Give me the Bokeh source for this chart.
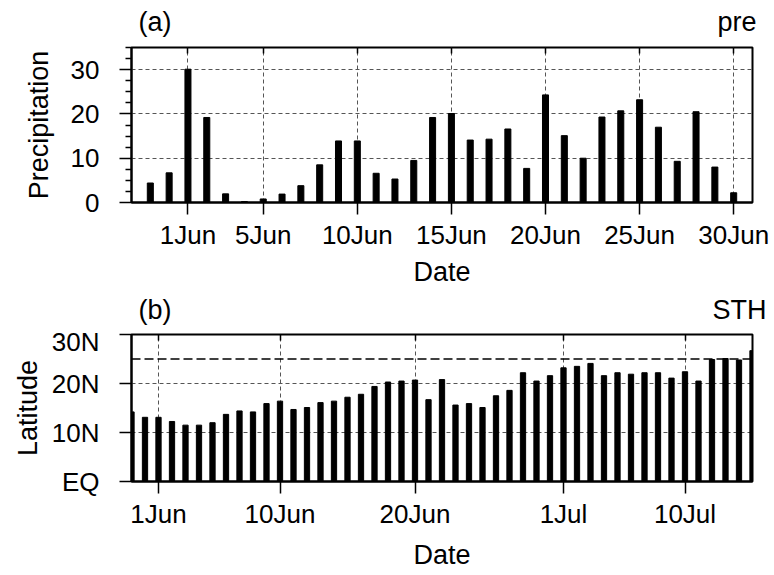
from bokeh.plotting import figure
from bokeh.layouts import column
from bokeh.models import Range1d, LinearAxis, FixedTicker, Span
from bokeh.core.properties import value
from bokeh.embed import file_html
from bokeh.resources import INLINE

# ---------------- data ----------------
# panel (a): daily precipitation, day offsets relative to 1 Jun (30May .. 30Jun)
days_a = list(range(-2, 30))
pre_values = [4.4, 6.7, 30.1, 19.2, 1.95, 0.2, 0.8, 1.9, 3.8, 8.5, 13.9, 13.9,
              6.6, 5.3, 9.5, 19.2, 20.1, 14.1, 14.3, 16.6, 7.7, 24.3, 15.1, 10.0,
              19.3, 20.7, 23.2, 17.0, 9.3, 20.5, 8.0, 2.2]
tick_days_a = [0, 4, 9, 14, 19, 24, 29]
tick_labels_a = ["1Jun", "5Jun", "10Jun", "15Jun", "20Jun", "25Jun", "30Jun"]
yticks_a = [0, 10, 20, 30]
yminor_a = [2.5, 5, 7.5, 12.5, 15, 17.5, 22.5, 25, 27.5, 32.5, 35]

# panel (b): STH latitude, day offsets relative to 1 Jun (30May .. 15Jul)
days_b = list(range(-2, 45))
sth_values = [14.2, 13.1, 13.1, 12.25, 11.5, 11.5, 12.0, 13.7, 14.4, 14.2, 15.9, 16.4,
              14.7, 15.1, 16.1, 16.4, 17.2, 17.8, 19.4, 20.3, 20.5, 20.7, 16.7, 20.8,
              15.6, 15.9, 15.1, 17.5, 18.6, 22.2, 20.5, 21.6, 23.2, 23.5, 24.1, 21.6,
              22.2, 21.9, 22.2, 22.2, 21.1, 22.4, 20.5, 24.9, 25.1, 24.8, 26.7]
tick_days_b = [0, 9, 19, 30, 39]
tick_labels_b = ["1Jun", "10Jun", "20Jun", "1Jul", "10Jul"]
yticks_b = [0, 10, 20, 30]
ytick_labels_b = ["EQ", "10N", "20N", "30N"]
ref_lat = 25

titles_a = ["(a)", "pre"]
titles_b = ["(b)", "STH"]

FONT = "Liberation Sans"
TICK_FS = "26px"
LAB_FS = "27px"
W = 772
LEFT = 131
RIGHT = 20


def style(p, xt, xl, yt, yl, yminor=None, xlabel_standoff=4, ylabel_standoff=14):
    p.xaxis.ticker = FixedTicker(ticks=xt)
    p.xaxis.major_label_overrides = {t: l for t, l in zip(xt, xl)}
    p.yaxis.ticker = FixedTicker(ticks=yt, minor_ticks=yminor or [])
    p.yaxis.major_label_overrides = {t: l for t, l in zip(yt, yl)}
    for ax in (p.xaxis[0], p.yaxis[0]):
        ax.major_label_text_font = FONT
        ax.major_label_text_font_size = TICK_FS
        ax.major_label_text_color = "black"
        ax.axis_label_text_font = FONT
        ax.axis_label_text_font_size = LAB_FS
        ax.axis_label_text_font_style = "normal"
        ax.axis_label_text_color = "black"
        ax.axis_line_width = 2
        ax.axis_line_color = "black"
        ax.major_tick_line_color = "black"
        ax.major_tick_line_width = 1.5
        ax.minor_tick_line_color = "black"
        ax.minor_tick_line_width = 1.5
        ax.major_tick_in = 0
        ax.major_tick_out = 12
        ax.minor_tick_in = 0
        ax.minor_tick_out = 6
    p.xaxis.major_label_standoff = 5
    p.xaxis.axis_label_standoff = xlabel_standoff
    p.yaxis.major_label_standoff = 20
    p.yaxis.axis_label_standoff = ylabel_standoff
    if not yminor:
        p.yaxis.minor_tick_line_color = None
    p.xaxis.minor_tick_line_color = None
    p.xgrid.ticker = FixedTicker(ticks=xt)
    p.ygrid.ticker = FixedTicker(ticks=yt)
    p.grid.grid_line_color = "#555555"
    p.grid.grid_line_dash = "4 3"
    p.grid.grid_line_width = 1
    p.outline_line_color = "black"
    p.outline_line_width = 2
    p.outline_line_alpha = 1
    p.background_fill_color = "white"
    p.border_fill_color = "white"
    top = LinearAxis(ticker=FixedTicker(ticks=xt), major_label_text_font_size="1px",
                     major_label_text_color=None,
                     major_tick_in=6, major_tick_out=0, major_tick_line_width=1.5,
                     major_tick_line_color="black",
                     axis_line_color=None, minor_tick_line_color=None,
                     major_label_standoff=0)
    p.add_layout(top, "above")


def title_strip(height, texts, xs, center_from_top):
    t = figure(width=W, height=height, x_range=Range1d(0, W), y_range=Range1d(0, height),
               output_backend="svg", toolbar_location=None, min_border=0,
               x_axis_location=None, y_axis_location=None)
    try:
        t.frame_align = False
    except Exception:
        pass
    t.grid.visible = False
    t.outline_line_color = None
    t.background_fill_color = "white"
    t.border_fill_color = "white"
    yc = height - center_from_top
    t.text(x=[xs[0]], y=[yc], text=[texts[0]], text_align="left", text_baseline="middle",
           text_font=value(FONT), text_font_size=LAB_FS, text_color="black")
    t.text(x=[xs[1]], y=[yc], text=[texts[1]], text_align="right", text_baseline="middle",
           text_font=value(FONT), text_font_size=LAB_FS, text_color="black")
    return t


# ---------------- panel (a) ----------------
ta = title_strip(40, titles_a, [LEFT + 7, 756], 21)
pa = figure(width=W, height=250, x_range=Range1d(-3, 30), y_range=Range1d(0, 35),
            output_backend="svg", toolbar_location=None,
            min_border_left=LEFT, min_border_right=RIGHT, min_border_top=7, min_border_bottom=88,
            x_axis_label="Date", y_axis_label="Precipitation")
pa.vbar(x=days_a, top=pre_values, width=0.32, color="black")
style(pa, tick_days_a, tick_labels_a, yticks_a, [str(v) for v in yticks_a],
      yminor=yminor_a, xlabel_standoff=4, ylabel_standoff=14)

# ---------------- panel (b) ----------------
tb = title_strip(36, titles_b, [LEFT + 7, 766], 19)
pb = figure(width=W, height=246, x_range=Range1d(-2, 44), y_range=Range1d(0, 30),
            output_backend="svg", toolbar_location=None,
            min_border_left=LEFT, min_border_right=RIGHT, min_border_top=8, min_border_bottom=82,
            x_axis_label="Date", y_axis_label="Latitude")
pb.vbar(x=days_b, top=sth_values, width=0.39, color="black")
style(pb, tick_days_b, tick_labels_b, yticks_b, ytick_labels_b,
      xlabel_standoff=8, ylabel_standoff=6)
pb.add_layout(Span(location=ref_lat, dimension="width", line_color="black",
                   line_dash="9 4", line_width=1.5))

layout = column(ta, pa, tb, pb, spacing=0)
open("out.html", "w").write(file_html(layout, INLINE))
